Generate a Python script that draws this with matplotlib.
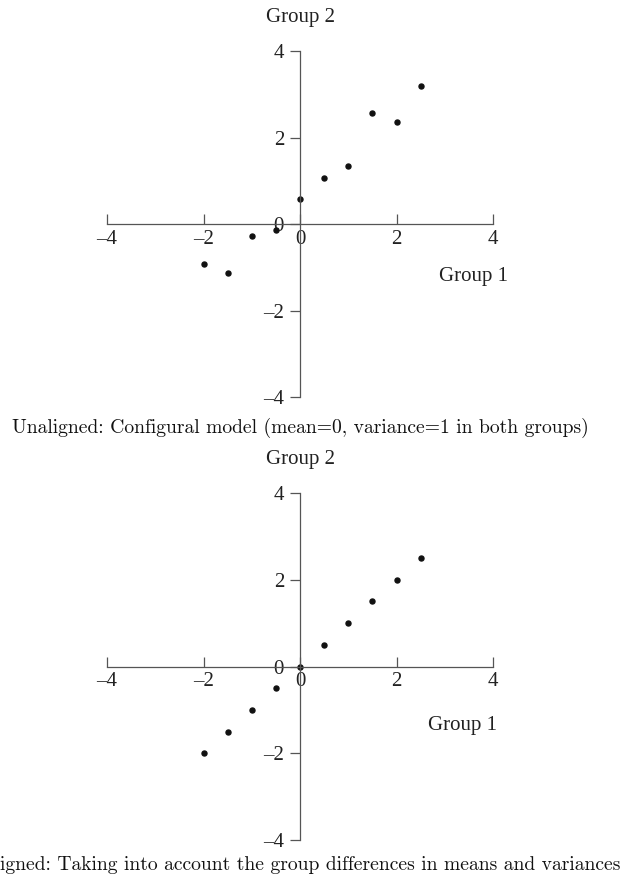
import matplotlib
matplotlib.use("Agg")
import matplotlib.pyplot as plt

# Data
group1 = [-2.0, -1.5, -1.0, -0.5, 0.0, 0.5, 1.0, 1.5, 2.0, 2.5]
unaligned_g2 = [-0.93, -1.14, -0.28, -0.14, 0.57, 1.07, 1.35, 2.56, 2.35, 3.20]
aligned_g2 = [-2.0, -1.5, -1.0, -0.5, 0.0, 0.5, 1.0, 1.5, 2.0, 2.5]
ticks = [-4, -2, 0, 2, 4]
tick_labels = ["\u20134", "\u20132", "0", "2", "4"]
captions = ["Unaligned: Configural model (mean=0, variance=1 in both groups)",
            "Aligned: Taking into account the group differences in means and variances"]

W, H = 620, 876
fig = plt.figure(figsize=(W / 100, H / 100), dpi=100)

serif = ["Liberation Serif", "DejaVu Serif"]
axis_color = "#555555"
text_color = "#222222"

panels = [
    dict(top=51, bot=397, y2=unaligned_g2, g1=(3.59, -1.22), cap_y=428),
    dict(top=493, bot=840, y2=aligned_g2, g1=(3.37, -1.35), cap_y=865),
]

for p, cap in zip(panels, captions):
    left, right = 107, 493
    ax = fig.add_axes([left / W, 1 - p["bot"] / H, (right - left) / W, (p["bot"] - p["top"]) / H])
    ax.set_xlim(-4, 4)
    ax.set_ylim(-4, 4)
    ax.patch.set_visible(False)
    for s in ["top", "right"]:
        ax.spines[s].set_visible(False)
    for s in ["left", "bottom"]:
        ax.spines[s].set_position("zero")
        ax.spines[s].set_color(axis_color)
        ax.spines[s].set_linewidth(0.9)
    ax.set_xticks(ticks)
    ax.set_xticklabels(tick_labels)
    ax.set_yticks(ticks)
    ax.set_yticklabels(tick_labels)
    ax.tick_params(axis="x", direction="in", length=7, width=0.9, color=axis_color,
                   pad=4, labelsize=15, labelcolor=text_color)
    ax.tick_params(axis="y", direction="out", length=7, width=0.9, color=axis_color,
                   pad=4.5, labelsize=15, labelcolor=text_color)
    for lab in ax.get_xticklabels() + ax.get_yticklabels():
        lab.set_fontfamily(serif)
    ax.plot(group1, p["y2"], "o", color="#111111", markersize=3.6, clip_on=False)
    ax.text(0, 4.77, "Group 2", ha="center", va="center", fontsize=15,
            family=serif, color=text_color)
    ax.text(p["g1"][0], p["g1"][1], "Group 1", ha="center", va="center", fontsize=15,
            family=serif, color=text_color)
    fig.text(300 / W, 1 - p["cap_y"] / H, cap, ha="center", va="center",
             fontsize=14.1, family="cmr10", color="#111111")

fig.savefig("out.png", dpi=100, facecolor="white")
